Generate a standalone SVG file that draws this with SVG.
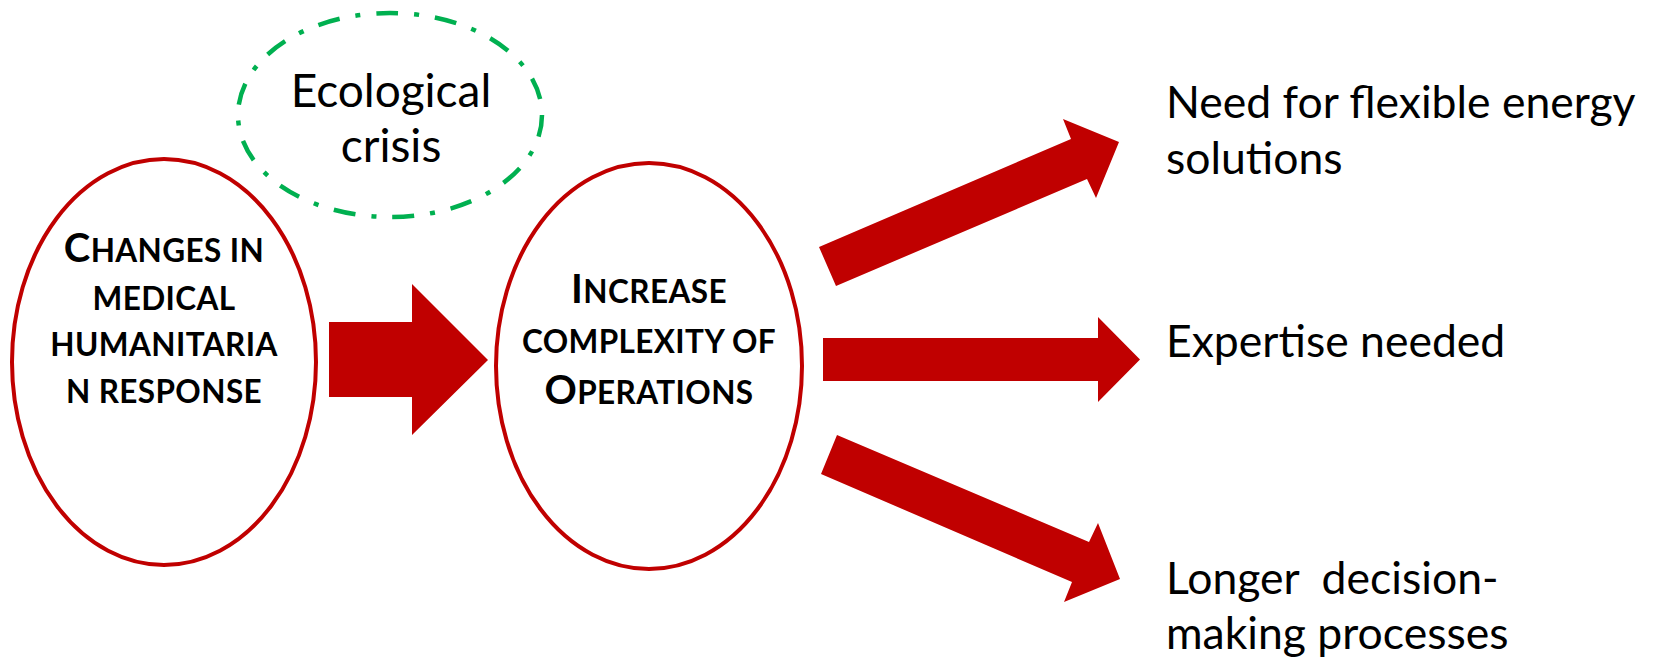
<svg xmlns="http://www.w3.org/2000/svg" width="1655" height="661" viewBox="0 0 1655 661">
<style>
.node{fill:#FFFFFF;stroke:#C00000;stroke-width:4}
.eco{fill:none;stroke:#00B050;stroke-width:4.5;stroke-dasharray:22 16 5 16}
.arrow{fill:#C00000;stroke:none}
.sc{font-family:Lato,"Open Sans",sans-serif;font-weight:700;fill:#000;text-anchor:middle;font-size:31.5px;letter-spacing:0.4px}
.big{font-size:40px}
.lbl{font-family:Lato,"Open Sans",sans-serif;font-weight:400;fill:#000;font-size:44.5px}
.eco-t{font-size:46px}
</style>
<rect width="1655" height="661" fill="#FFFFFF"/>
<g id="connectors">
<polygon class="arrow" points="329,322 412,322 412,284 488,360 412,435 412,397 329,397"/>
<polygon class="arrow" points="819,247 1071,139 1063,119 1119,142 1096,198 1087,179 836,286"/>
<polygon class="arrow" points="823,338 1098,338 1098,317 1140,359.5 1098,402 1098,381 823,381"/>
<polygon class="arrow" points="837,435 1089,542 1098,523 1120,579 1064,602 1072,582 821,474"/>
</g>
<g id="node-ecological">
<ellipse class="eco" cx="390" cy="115" rx="152" ry="102"/>
<text class="lbl eco-t" x="391" y="107" text-anchor="middle">Ecological</text>
<text class="lbl eco-t" x="391" y="162" text-anchor="middle">crisis</text>
</g>
<g id="node-changes">
<ellipse class="node" cx="164" cy="362" rx="152" ry="203"/>
<text class="sc" x="164" y="262"><tspan class="big">C</tspan>HANGES IN</text>
<text class="sc" x="164" y="310">MEDICAL</text>
<text class="sc" x="164" y="356">HUMANITARIA</text>
<text class="sc" x="164" y="403">N RESPONSE</text>
</g>
<g id="node-complexity">
<ellipse class="node" cx="649" cy="366" rx="153" ry="203"/>
<text class="sc" x="649" y="303"><tspan class="big">I</tspan>NCREASE</text>
<text class="sc" x="649" y="353">COMPLEXITY OF</text>
<text class="sc" x="649" y="404"><tspan class="big">O</tspan>PERATIONS</text>
</g>
<g id="node-energy">
<text class="lbl" x="1166" y="118">Need for flexible energy</text>
<text class="lbl" x="1166" y="174">solutions</text>
</g>
<g id="node-expertise">
<text class="lbl" x="1166" y="357">Expertise needed</text>
</g>
<g id="node-longer">
<text class="lbl" x="1166" y="594" xml:space="preserve">Longer  decision-</text>
<text class="lbl" x="1166" y="649">making processes</text>
</g>
</svg>
